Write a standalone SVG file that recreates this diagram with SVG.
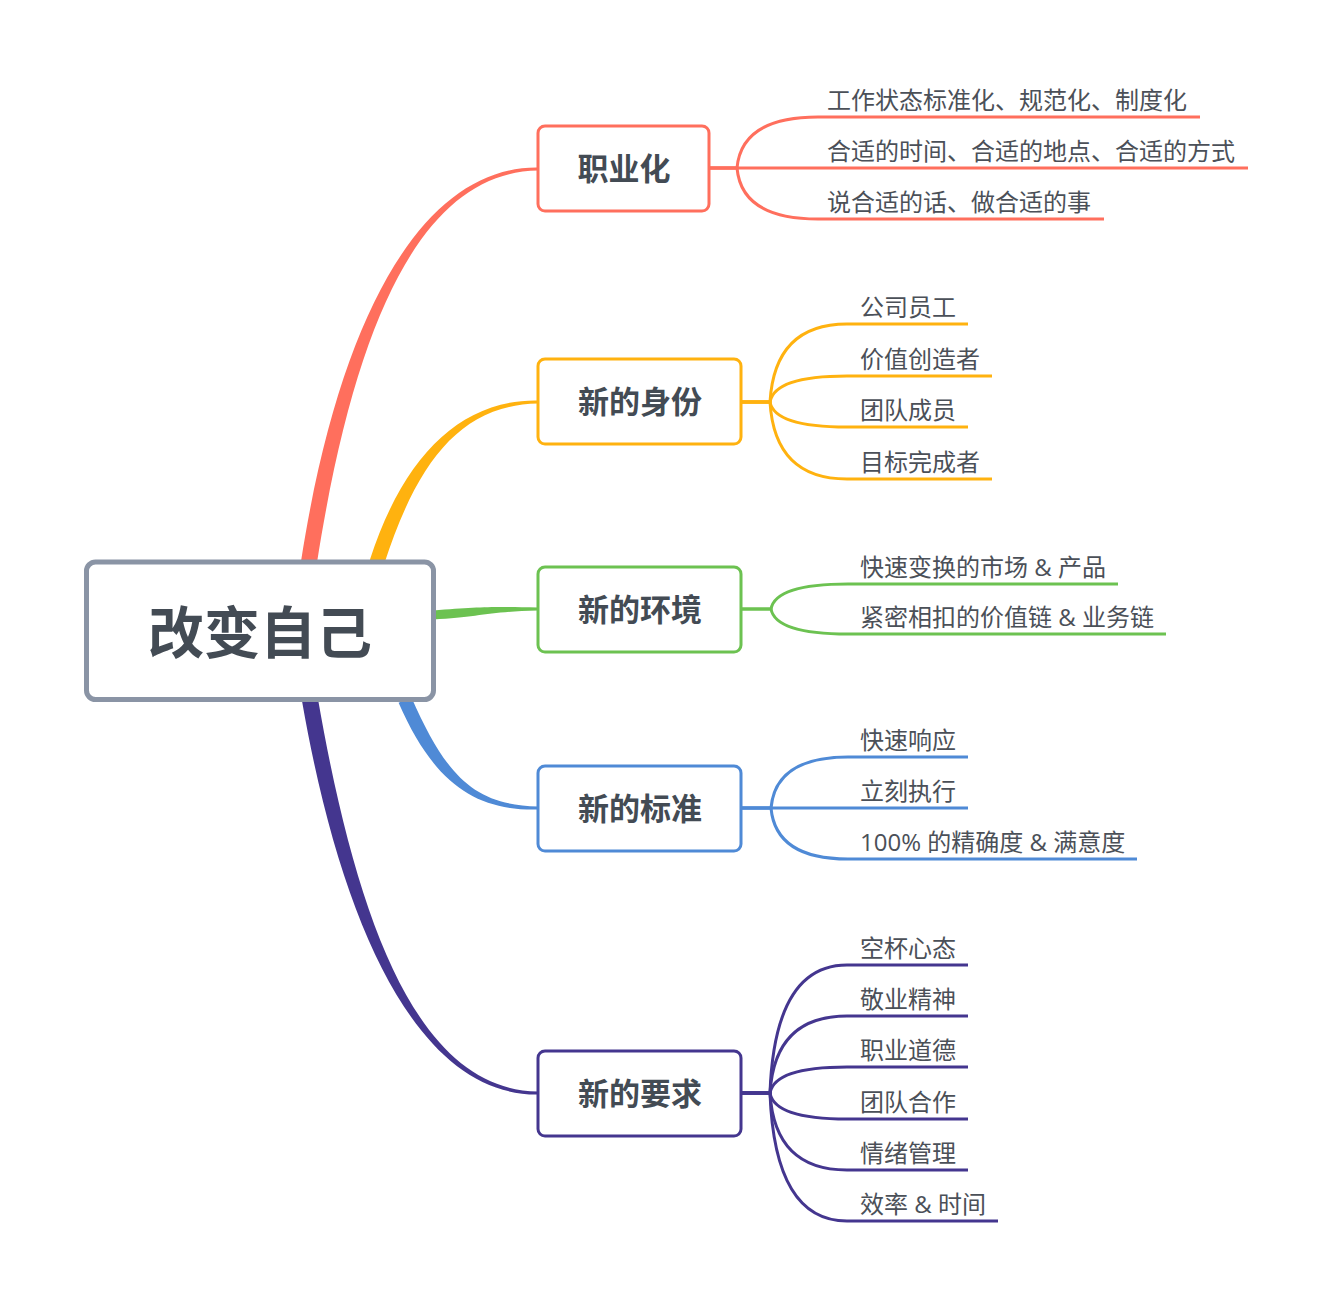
<svg xmlns="http://www.w3.org/2000/svg" width="1332" height="1308" viewBox="0 0 1332 1308">
<style>
.bg{fill:#ffffff}
.root rect{fill:#ffffff;stroke:#8a94a5;stroke-width:5}
.node rect{fill:#ffffff;stroke-width:3}
.root text{font-family:"Noto Sans CJK SC","Noto Sans",sans-serif;font-weight:bold;font-size:56px;fill:#434b54;text-anchor:middle}
.node text{font-family:"Noto Sans CJK SC","Noto Sans",sans-serif;font-weight:bold;font-size:31px;fill:#434b54;text-anchor:middle}
.leaf{font-family:"Open Sans","Noto Sans CJK SC",sans-serif;font-size:24px;fill:#4b5058}
.sub path{fill:none;stroke-width:3}
.red{stroke:#ff6f5d}
.yel{stroke:#ffb20f}
.grn{stroke:#6cc251}
.blu{stroke:#4f8ad6}
.pur{stroke:#44368f}
</style>
<rect class="bg" x="0" y="0" width="1332" height="1308"/>
<g id="connectors">
  <path fill="#ff6f5d" d="M 301.1,560.8 C 342.1,298.8 430,166 538,167.5 L 538,170.5 C 430,172 357.9,301.2 316.9,563.2 Z"/>
  <path fill="#ffb20f" d="M 369.9,559.7 C 402.9,457.7 460,399 538,400.5 L 538,403.5 C 460,405 417.1,462.3 384.1,564.3 Z"/>
  <path fill="#6cc251" d="M 433,610.5 C 480,607 490,606.5 538,607.5 L 538,610.5 C 490,611.5 480,617 433,619.5 Z"/>
  <path fill="#4f8ad6" d="M 411.4,697.2 C 446.4,777.2 475,805 538,806.5 L 538,809.5 C 475,811 433.6,782.8 398.6,702.8 Z"/>
  <path fill="#44368f" d="M 317.9,698.6 C 357.9,928.6 420,1090 538,1091.5 L 538,1094.5 C 420,1096 342.1,931.4 302.1,701.4 Z"/>
  <g class="sub red">
    <path d="M 709,168 H 737 C 740,134.9 765.4,117 818,117 H 1200"/>
    <path d="M 709,168 H 1248"/>
    <path d="M 709,168 H 737 C 740,201.2 765.4,219 818,219 H 1104"/>
  </g>
  <g class="sub yel">
    <path d="M 741,402 H 770 C 773,351.3 797,324 847,324 H 968"/>
    <path d="M 741,402 H 770 C 773,385.1 797,376 847,376 H 992"/>
    <path d="M 741,402 H 770 C 773,418.3 797,427 847,427 H 968"/>
    <path d="M 741,402 H 770 C 773,452 797,479 847,479 H 992"/>
  </g>
  <g class="sub grn">
    <path d="M 741,609 H 771 C 774,592.75 798,584 848,584 H 1118"/>
    <path d="M 741,609 H 771 C 774,625.25 798,634 848,634 H 1166"/>
  </g>
  <g class="sub blu">
    <path d="M 741,808 H 771 C 774,775 798,757 848,757 H 968"/>
    <path d="M 741,808 H 968"/>
    <path d="M 741,808 H 771 C 774,841 798,859 848,859 H 1137"/>
  </g>
  <g class="sub pur">
    <path d="M 741,1093 H 770 C 773,1009.8 797,965 847,965 H 968"/>
    <path d="M 741,1093 H 770 C 773,1043 797,1016 847,1016 H 968"/>
    <path d="M 741,1093 H 770 C 773,1076.1 797,1067 847,1067 H 968"/>
    <path d="M 741,1093 H 770 C 773,1109.9 797,1119 847,1119 H 968"/>
    <path d="M 741,1093 H 770 C 773,1143 797,1170 847,1170 H 968"/>
    <path d="M 741,1093 H 770 C 773,1176.2 797,1221 847,1221 H 998"/>
  </g>
</g>
<g id="root" class="root">
  <rect x="86.5" y="562" width="347" height="137.5" rx="9"/>
  <text x="260" y="653">改变自己</text>
</g>
<g id="n1" class="node">
  <rect class="red" x="538" y="126" width="171" height="85" rx="7"/>
  <text x="624" y="180">职业化</text>
</g>
<g id="n2" class="node">
  <rect class="yel" x="538" y="359" width="203" height="85" rx="7"/>
  <text x="640" y="413">新的身份</text>
</g>
<g id="n3" class="node">
  <rect class="grn" x="538" y="567" width="203" height="85" rx="7"/>
  <text x="640" y="621">新的环境</text>
</g>
<g id="n4" class="node">
  <rect class="blu" x="538" y="766" width="203" height="85" rx="7"/>
  <text x="640" y="820">新的标准</text>
</g>
<g id="n5" class="node">
  <rect class="pur" x="538" y="1051" width="203" height="85" rx="7"/>
  <text x="640" y="1105">新的要求</text>
</g>
<g id="leaves">
  <text class="leaf" x="827" y="109">工作状态标准化、规范化、制度化</text>
  <text class="leaf" x="827" y="160">合适的时间、合适的地点、合适的方式</text>
  <text class="leaf" x="827" y="211">说合适的话、做合适的事</text>
  <text class="leaf" x="860" y="316">公司员工</text>
  <text class="leaf" x="860" y="368">价值创造者</text>
  <text class="leaf" x="860" y="419">团队成员</text>
  <text class="leaf" x="860" y="471">目标完成者</text>
  <text class="leaf" x="860" y="576">快速变换的市场 &amp; 产品</text>
  <text class="leaf" x="860" y="626">紧密相扣的价值链 &amp; 业务链</text>
  <text class="leaf" x="860" y="749">快速响应</text>
  <text class="leaf" x="860" y="800">立刻执行</text>
  <text class="leaf" x="860" y="851">100% 的精确度 &amp; 满意度</text>
  <text class="leaf" x="860" y="957">空杯心态</text>
  <text class="leaf" x="860" y="1008">敬业精神</text>
  <text class="leaf" x="860" y="1059">职业道德</text>
  <text class="leaf" x="860" y="1111">团队合作</text>
  <text class="leaf" x="860" y="1162">情绪管理</text>
  <text class="leaf" x="860" y="1213">效率 &amp; 时间</text>
</g>
</svg>
